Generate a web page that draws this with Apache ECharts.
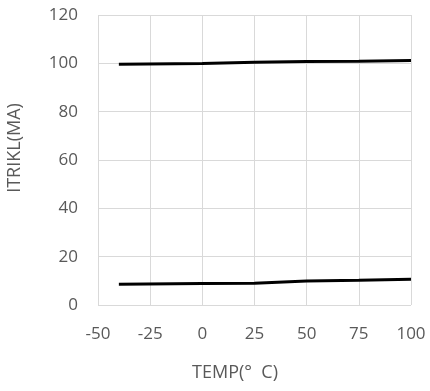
<!DOCTYPE html>
<html><head><meta charset="utf-8">
<script src="https://cdn.jsdelivr.net/npm/echarts@6/dist/echarts.min.js"></script>
<style>html,body{margin:0;padding:0;background:#fff}#c{width:430px;height:391px}</style>
</head><body><div id="c"></div>
<script>
const temps = [-40, 0, 25, 50, 75, 100];
const upperSeries = [99.6, 99.9, 100.4, 100.8, 100.9, 101.2];
const lowerSeries = [8.6, 8.9, 9.0, 9.9, 10.2, 10.7];
const xTicks = [-50, 100, 25];
const yTicks = [0, 120, 20];
const xName = 'TEMP(°  C)';
const yName = 'ITRIKL(MA)';
const chart = echarts.init(document.getElementById('c'));
const font = '"Open Sans", "Liberation Sans", sans-serif';
chart.setOption({
  animation: false,
  grid: {left: 98, right: 19, top: 15, bottom: 86},
  graphic: [
    {type: 'text', x: 235, y: 373, style: {text: xName, fill: '#595959', font: '18px ' + font, align: 'center', verticalAlign: 'middle'}},
    {type: 'text', x: 15, y: 148, rotation: Math.PI / 2, style: {text: yName, fill: '#595959', font: '18px ' + font, align: 'center', verticalAlign: 'middle'}}
  ],
  xAxis: {
    type: 'value', min: xTicks[0], max: xTicks[1], interval: xTicks[2],
    axisLine: {show: false}, axisTick: {show: false},
    axisLabel: {color: '#595959', fontSize: 17, fontFamily: font, margin: 21},
    splitLine: {show: true, lineStyle: {color: '#d9d9d9', width: 1}}
  },
  yAxis: {
    type: 'value', min: yTicks[0], max: yTicks[1], interval: yTicks[2],
    axisLine: {show: false}, axisTick: {show: false},
    axisLabel: {color: '#595959', fontSize: 17, fontFamily: font, margin: 20},
    splitLine: {show: true, lineStyle: {color: '#d9d9d9', width: 1}}
  },
  series: [
    {type: 'line', data: temps.map((t, i) => [t, upperSeries[i]]), symbol: 'none', lineStyle: {color: '#000', width: 3}},
    {type: 'line', data: temps.map((t, i) => [t, lowerSeries[i]]), symbol: 'none', lineStyle: {color: '#000', width: 3}}
  ]
});
</script></body></html>
